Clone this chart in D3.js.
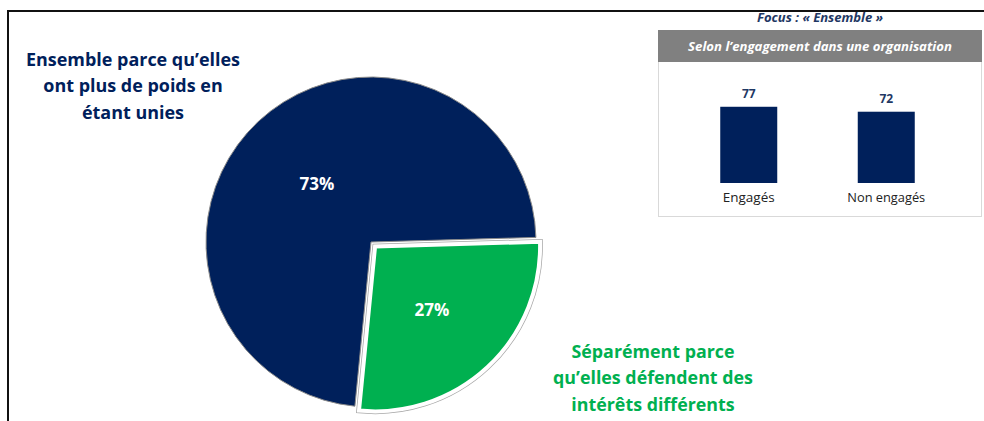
<!DOCTYPE html>
<html><head><meta charset="utf-8">
<script src="https://cdn.jsdelivr.net/npm/d3@7"></script>
<style>
html,body{margin:0;padding:0;background:#fff;}
svg{display:block;font-family:"Open Sans", Lato, sans-serif;}
</style></head>
<body><svg id="c" width="984" height="421"></svg>
<script>
// ---- data ----
const pieLabels = ["Ensemble parce qu’elles ont plus de poids en étant unies", "Séparément parce qu’elles défendent des intérêts différents"];
const pieValues = [73, 27];
const pieLabelLines = [["Ensemble parce qu’elles", "ont plus de poids en", "étant unies"],
                       ["Séparément parce", "qu’elles défendent des", "intérêts différents"]];
const insetFocus = "Focus : « Ensemble »";
const insetTitle = "Selon l’engagement dans une organisation";
const barCategories = ["Engagés", "Non engagés"];
const barValues = [77, 72];

const navy = "#00205B", green = "#00B050";
const svg = d3.select("#c");

// fit a text element's font size so that its width equals target
function fit(sel, target) {
  const n = sel.node();
  const w = n.getComputedTextLength();
  const fs = parseFloat(sel.attr("font-size"));
  sel.attr("font-size", (fs * target / w).toFixed(2));
}

// frame
svg.append("path").attr("d", "M8,421 V11 H984").attr("fill", "none").attr("stroke", "#111").attr("stroke-width", 2);

// pie
const r = 165;
const pie = d3.pie().sort(null).startAngle(185.6 * Math.PI / 180).endAngle((185.6 + 360) * Math.PI / 180);
const arcs = pie(pieValues);
const arc = d3.arc().innerRadius(0).outerRadius(r);
const cx = 371, cy = 242;
const g = svg.append("g").attr("transform", `translate(${cx},${cy})`);
const explode = [0, 6];
const colors = [navy, green];
arcs.forEach((a, i) => {
  const mid = (a.startAngle + a.endAngle) / 2;
  const dx = Math.sin(mid) * explode[i], dy = -Math.cos(mid) * explode[i];
  const gg = g.append("g").attr("transform", `translate(${dx},${dy})`);
  if (i === 1) {
    gg.append("path").attr("d", arc(a)).attr("fill", "none").attr("stroke", "#a8a8a8").attr("stroke-width", 5.5);
    gg.append("path").attr("d", arc(a)).attr("fill", colors[i]).attr("stroke", "#fff").attr("stroke-width", 4);
  } else {
    gg.append("path").attr("d", arc(a)).attr("fill", colors[i]).attr("stroke", "#8a8a8a").attr("stroke-width", 1);
  }
});
// percent labels
const pctPos = [[317, 190], [432, 316]];
pieValues.forEach((v, i) => {
  svg.append("text").attr("x", pctPos[i][0]).attr("y", pctPos[i][1]).attr("text-anchor", "middle")
    .attr("fill", "#fff").attr("font-weight", 700).attr("font-size", 17).text(v + "%");
});
// category labels
const labPos = [[133, 66, navy, 214, 0], [653, 358, green, 200, 1]];
pieLabelLines.forEach((lines, i) => {
  const t = svg.append("text").attr("text-anchor", "middle").attr("fill", labPos[i][2])
    .attr("font-weight", 700).attr("font-size", 16);
  const spans = lines.map((l, j) => t.append("tspan").attr("x", labPos[i][0]).attr("y", labPos[i][1] + j * 26.3).text(l));
  const w = spans[labPos[i][4]].node().getComputedTextLength();
  t.attr("font-size", (16 * labPos[i][3] / w).toFixed(2));
});

// inset
const focus = svg.append("text").attr("x", 820).attr("y", 22).attr("text-anchor", "middle").attr("fill", "#1F3864")
  .attr("font-weight", 700).attr("font-style", "italic").attr("font-size", 11).text(insetFocus);
fit(focus, 126);
svg.append("rect").attr("x", 658.5).attr("y", 30.5).attr("width", 323).attr("height", 186).attr("fill", "#fff").attr("stroke", "#d9d9d9");
svg.append("rect").attr("x", 658).attr("y", 30).attr("width", 324).attr("height", 32).attr("fill", "#808080");
const title = svg.append("text").attr("x", 820).attr("y", 50.5).attr("text-anchor", "middle").attr("fill", "#fff")
  .attr("font-weight", 700).attr("font-style", "italic").attr("font-size", 11.5).text(insetTitle);
fit(title, 264);

const x = d3.scalePoint().domain(barCategories).range([656, 979]).padding(0.6745);
const y = d3.scaleLinear().domain([0, 100]).range([183, 84]);
const bw = 57;
const catW = [52, 78];
barCategories.forEach((c, i) => {
  const xc = x(c);
  svg.append("rect").attr("x", xc - bw / 2).attr("y", y(barValues[i])).attr("width", bw)
    .attr("height", y(0) - y(barValues[i])).attr("fill", navy);
  svg.append("text").attr("x", xc).attr("y", y(barValues[i]) - 9).attr("text-anchor", "middle")
    .attr("fill", "#1F3864").attr("font-weight", 700).attr("font-size", 12).text(barValues[i]);
  const lab = svg.append("text").attr("x", xc).attr("y", 202).attr("text-anchor", "middle")
    .attr("fill", "#222").attr("font-size", 11).text(c);
  fit(lab, catW[i]);
});
</script></body></html>
